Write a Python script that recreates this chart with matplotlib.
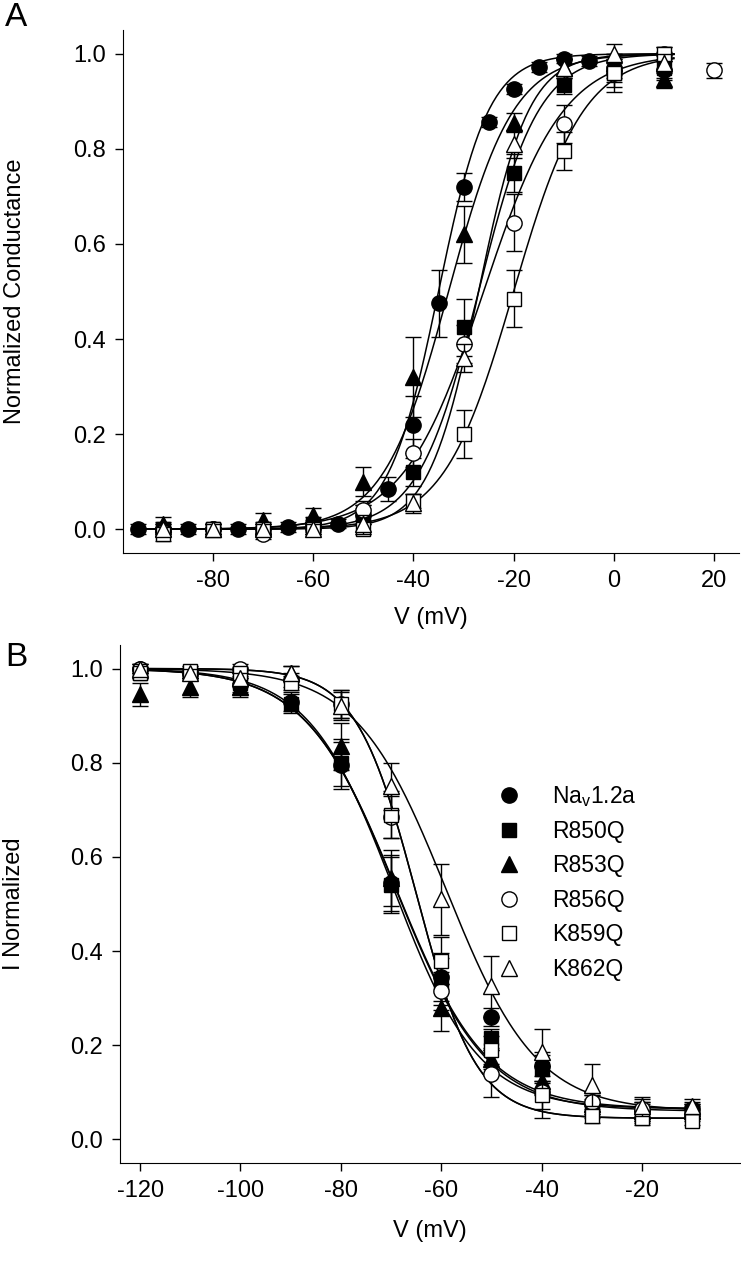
import numpy as np
import matplotlib
matplotlib.use("Agg")
import matplotlib.pyplot as plt

plt.rcParams['font.family'] = ['Liberation Sans', 'DejaVu Sans']
plt.rcParams['mathtext.fontset'] = 'custom'
plt.rcParams['mathtext.rm'] = 'Liberation Sans'
plt.rcParams['axes.unicode_minus'] = False

NAMES = ["Na$_\\mathregular{v}$1.2a", "R850Q", "R853Q", "R856Q", "K859Q", "K862Q"]
MARKERS = ['o', 's', '^', 'o', 's', '^']
FILLED = [True, True, True, False, False, False]

# panel A: conductance-voltage
v_nav_a = [-95, -90, -85, -80, -75, -70, -65, -60, -55, -50, -45, -40, -35, -30, -25, -20, -15, -10, -5, 0, 10]
g_nav = [0.0, 0.0, 0.0, 0.0, 0.0, 0.0, 0.005, 0.01, 0.012, 0.03, 0.085, 0.22, 0.475, 0.72, 0.857, 0.926, 0.972, 0.99, 0.985, 0.97, 0.965]
e_nav = [0.01, 0.01, 0.01, 0.01, 0.01, 0.01, 0.01, 0.01, 0.01, 0.02, 0.025, 0.06, 0.07, 0.03, 0.01, 0.01, 0.01, 0.01, 0.01, 0.02, 0.02]

v_mut_a = [-90, -80, -70, -60, -50, -40, -30, -20, -10, 0, 10]
g_r850q = [0.0, 0.0, 0.0, 0.01, 0.03, 0.12, 0.425, 0.75, 0.935, 0.96, 0.97]
e_r850q = [0.015, 0.01, 0.015, 0.015, 0.02, 0.03, 0.06, 0.04, 0.02, 0.02, 0.02]
g_r853q = [0.01, 0.0, 0.02, 0.03, 0.10, 0.32, 0.62, 0.855, 0.97, 0.98, 0.947]
e_r853q = [0.015, 0.01, 0.015, 0.015, 0.03, 0.085, 0.06, 0.02, 0.02, 0.02, 0.02]
g_r856q = [-0.005, 0.0, -0.01, 0.0, 0.04, 0.16, 0.39, 0.645, 0.852, 0.96, 1.0, 0.965]
e_r856q = [0.01, 0.01, 0.01, 0.01, 0.02, 0.03, 0.04, 0.06, 0.04, 0.03, 0.015, 0.015]
v_r856q_a = v_mut_a + [20]
g_k859q = [-0.01, 0.0, 0.0, 0.0, 0.0, 0.06, 0.2, 0.485, 0.795, 0.96, 1.0]
e_k859q = [0.015, 0.01, 0.01, 0.01, 0.01, 0.015, 0.05, 0.06, 0.04, 0.04, 0.015]
g_k862q = [0.0, 0.0, 0.0, 0.0, 0.01, 0.055, 0.36, 0.81, 0.97, 1.0, 0.98]
e_k862q = [0.01, 0.01, 0.01, 0.01, 0.02, 0.02, 0.03, 0.03, 0.02, 0.02, 0.02]

# Boltzmann fit parameters (V1/2, k)
act_vhalf = [-35.0, -27.0, -33.0, -26.0, -20.0, -27.0]
act_slope = [5.0, 6.0, 6.5, 8.0, 7.0, 5.0]

# panel B: steady-state inactivation
v_b = [-120, -110, -100, -90, -80, -70, -60, -50, -40, -30, -20, -10]
i_nav = [1.0, 0.99, 0.965, 0.93, 0.795, 0.545, 0.345, 0.26, 0.155, 0.075, 0.06, 0.065]
ei_nav = [0.01, 0.01, 0.02, 0.02, 0.05, 0.06, 0.05, 0.02, 0.03, 0.02, 0.02, 0.015]
i_r850q = [0.99, 0.99, 0.97, 0.925, 0.80, 0.54, 0.335, 0.215, 0.15, 0.065, 0.055, 0.06]
ei_r850q = [0.01, 0.01, 0.02, 0.02, 0.05, 0.06, 0.05, 0.02, 0.03, 0.02, 0.02, 0.015]
i_r853q = [0.945, 0.96, 0.96, 0.99, 0.835, 0.555, 0.28, 0.17, 0.125, 0.075, 0.06, 0.06]
ei_r853q = [0.025, 0.02, 0.02, 0.015, 0.05, 0.06, 0.05, 0.02, 0.03, 0.02, 0.02, 0.015]
i_r856q = [1.0, 0.99, 1.0, 0.975, 0.925, 0.685, 0.315, 0.14, 0.10, 0.08, 0.065, 0.055]
ei_r856q = [0.01, 0.01, 0.01, 0.015, 0.03, 0.045, 0.04, 0.05, 0.055, 0.02, 0.02, 0.015]
i_k859q = [0.99, 0.995, 0.99, 0.97, 0.925, 0.69, 0.38, 0.19, 0.095, 0.05, 0.045, 0.04]
ei_k859q = [0.01, 0.01, 0.01, 0.015, 0.03, 0.05, 0.05, 0.03, 0.03, 0.015, 0.015, 0.01]
i_k862q = [1.0, 0.99, 0.98, 0.99, 0.92, 0.75, 0.51, 0.325, 0.185, 0.115, 0.07, 0.07]
ei_k862q = [0.01, 0.01, 0.01, 0.015, 0.03, 0.05, 0.075, 0.065, 0.05, 0.045, 0.02, 0.015]

inact_vhalf = [-69.0, -69.0, -69.5, -65.0, -65.0, -59.0]
inact_slope = [9.0, 9.0, 8.5, 6.0, 6.0, 9.0]
inact_base = [0.065, 0.06, 0.065, 0.045, 0.045, 0.06]


def boltz_act(v, vh, k):
    return 1.0 / (1.0 + np.exp(-(v - vh) / k))


def boltz_inact(v, vh, k, c):
    return c + (1.0 - c) / (1.0 + np.exp((v - vh) / k))


def draw_points(ax, x, y, err, i):
    face = 'black' if FILLED[i] else 'white'
    ax.errorbar(x, y, yerr=err, fmt=MARKERS[i], color='black', mfc=face, mec='black',
                ms=11 if MARKERS[i] != 's' else 9.5, mew=1.0, elinewidth=1.0,
                capsize=6, capthick=1.0, zorder=3 + i * 0.1, label=NAMES[i])


def style_axes(ax):
    for side in ['top', 'right']:
        ax.spines[side].set_visible(False)
    ax.tick_params(direction='out', length=6, width=1, labelsize=17, pad=6)
    ax.set_yticks([0.0, 0.2, 0.4, 0.6, 0.8, 1.0])
    ax.set_yticklabels(['0.0', '0.2', '0.4', '0.6', '0.8', '1.0'])


fig = plt.figure(figsize=(7.41, 12.80), dpi=100)
ax_a = fig.add_axes([123 / 741, 1 - 553 / 1280, 616 / 741, 523 / 1280])
ax_b = fig.add_axes([120 / 741, 1 - 1163 / 1280, 620 / 741, 518 / 1280])

# panel A
va = np.linspace(-96, 12, 300)
for i in range(6):
    ax_a.plot(va, boltz_act(va, act_vhalf[i], act_slope[i]), color='black', lw=1.1, zorder=2)
draw_points(ax_a, v_nav_a, g_nav, e_nav, 0)
draw_points(ax_a, v_mut_a, g_r850q, e_r850q, 1)
draw_points(ax_a, v_mut_a, g_r853q, e_r853q, 2)
draw_points(ax_a, v_r856q_a, g_r856q, e_r856q, 3)
draw_points(ax_a, v_mut_a, g_k859q, e_k859q, 4)
draw_points(ax_a, v_mut_a, g_k862q, e_k862q, 5)
ax_a.set_xlim(-98, 25)
ax_a.set_ylim(-0.05, 1.05)
ax_a.set_xticks([-80, -60, -40, -20, 0, 20])
style_axes(ax_a)
ax_a.set_xlabel('V (mV)', fontsize=17, labelpad=11)
ax_a.set_ylabel('Normalized Conductance', fontsize=17)
ax_a.yaxis.set_label_coords(-0.158, 0.5)
fig.text(5 / 741, 1 - 18 / 1280, 'A', fontsize=24, va='center', ha='left')

# panel B
vb = np.linspace(-120, -10, 300)
for i in range(6):
    ax_b.plot(vb, boltz_inact(vb, inact_vhalf[i], inact_slope[i], inact_base[i]),
              color='black', lw=1.1, zorder=2)
draw_points(ax_b, v_b, i_nav, ei_nav, 0)
draw_points(ax_b, v_b, i_r850q, ei_r850q, 1)
draw_points(ax_b, v_b, i_r853q, ei_r853q, 2)
draw_points(ax_b, v_b, i_r856q, ei_r856q, 3)
draw_points(ax_b, v_b, i_k859q, ei_k859q, 4)
draw_points(ax_b, v_b, i_k862q, ei_k862q, 5)
ax_b.set_xlim(-124, -0.5)
ax_b.set_ylim(-0.05, 1.05)
ax_b.set_xticks([-120, -100, -80, -60, -40, -20])
style_axes(ax_b)
ax_b.set_xlabel('V (mV)', fontsize=17, labelpad=13)
ax_b.set_ylabel('I Normalized', fontsize=17)
ax_b.yaxis.set_label_coords(-0.153, 0.5)
fig.text(5 / 741, 1 - 658 / 1280, 'B', fontsize=24, va='center', ha='left')

handles, labels = ax_b.get_legend_handles_labels()
handles = [h[0] for h in handles]
ax_b.legend(handles, labels, loc='upper left', bbox_to_anchor=(0.575, 0.75), frameon=False,
            fontsize=16.5, handletextpad=0.9, labelspacing=0.5, borderaxespad=0)

fig.savefig('out.png', dpi=100)
